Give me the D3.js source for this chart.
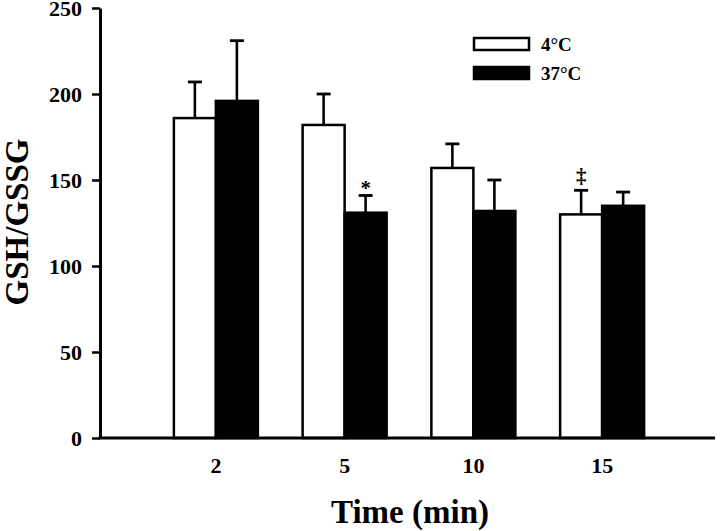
<!DOCTYPE html>
<html>
<head>
<meta charset="utf-8">
<script src="https://cdn.jsdelivr.net/npm/d3@7"></script>
<style>
  html, body { margin: 0; padding: 0; background: #fff; }
  svg { display: block; }
  text { font-family: "Liberation Serif", "Times New Roman", serif; font-weight: bold; fill: #000; }
</style>
</head>
<body>
<svg id="chart" width="720" height="531"></svg>
<script>
// ---- data ----
const categories = ["2", "5", "10", "15"];
const seriesNames = ["4°C", "37°C"];
const values4C  = [186, 182, 157, 130];
const errors4C  = [21, 18, 14, 14];
const values37C = [196, 131, 132, 135];
const errors37C = [35, 10, 18, 8];
const marks4C   = ["", "", "", "‡"];
const marks37C  = ["", "*", "", ""];
const yTicks = [0, 50, 100, 150, 200, 250];
const yTitle = "GSH/GSSG";
const xTitle = "Time (min)";

// ---- layout ----
const svg = d3.select("#chart");
const axisLeftX = 100, axisRightX = 715;
const yTop = 8, yBottom = 438;

const y = d3.scaleLinear().domain([0, 250]).range([yBottom, yTop]);
const x = d3.scaleBand().domain(categories).range([151.5, 666.5]).paddingInner(0).paddingOuter(0);
const inner = d3.scaleBand().domain(seriesNames).range([0, 84]);
const bw = inner.bandwidth();
const groupStart = c => x(c) + x.bandwidth() / 2 - 42;

const series = [
  { name: seriesNames[0], vals: values4C, errs: errors4C, marks: marks4C, fill: "#fff" },
  { name: seriesNames[1], vals: values37C, errs: errors37C, marks: marks37C, fill: "#000" }
];

const plot = svg.append("g");

series.forEach(s => {
  const g = plot.append("g");
  const cx = c => groupStart(c) + inner(s.name) + bw / 2;
  // error bars (upper only)
  g.selectAll("line.err").data(categories).enter().append("line")
    .attr("x1", cx).attr("x2", cx)
    .attr("y1", (c, i) => y(s.vals[i]))
    .attr("y2", (c, i) => y(s.vals[i] + s.errs[i]))
    .attr("stroke", "#000").attr("stroke-width", 2.6);
  g.selectAll("line.cap").data(categories).enter().append("line")
    .attr("x1", c => cx(c) - 7)
    .attr("x2", c => cx(c) + 7)
    .attr("y1", (c, i) => y(s.vals[i] + s.errs[i]))
    .attr("y2", (c, i) => y(s.vals[i] + s.errs[i]))
    .attr("stroke", "#000").attr("stroke-width", 2.8);
  // bars
  g.selectAll("rect").data(categories).enter().append("rect")
    .attr("x", c => groupStart(c) + inner(s.name))
    .attr("width", bw)
    .attr("y", (c, i) => y(s.vals[i]))
    .attr("height", (c, i) => y(0) - y(s.vals[i]))
    .attr("fill", s.fill)
    .attr("stroke", "#000").attr("stroke-width", 2.5);
  // significance marks
  g.selectAll("text.mark").data(categories).enter().append("text")
    .attr("x", cx)
    .attr("y", (c, i) => y(s.vals[i] + s.errs[i]) - (s.marks[i] === "*" ? 0 : 7))
    .attr("text-anchor", "middle")
    .style("font-size", "21px")
    .text((c, i) => s.marks[i]);
});

// ---- y axis ----
const yAxis = svg.append("g").attr("transform", `translate(${axisLeftX},0)`)
  .call(d3.axisLeft(y).tickValues(yTicks).tickSize(8).tickPadding(10).tickSizeOuter(0));
yAxis.select(".domain").attr("stroke-width", 3);
yAxis.selectAll(".tick line").attr("stroke-width", 2.5);
yAxis.selectAll(".tick text").style("font-size", "22px").attr("dy", "0.34em");

// ---- x axis ----
const xAxis = svg.append("g").attr("transform", `translate(0,${yBottom})`)
  .call(d3.axisBottom(x).tickSize(0).tickPadding(19));
xAxis.select(".domain").remove();
xAxis.append("line").attr("x1", axisLeftX - 1.5).attr("x2", axisRightX)
  .attr("y1", 0).attr("y2", 0).attr("stroke", "#000").attr("stroke-width", 3);
xAxis.selectAll(".tick text").style("font-size", "22px");

// ---- titles ----
svg.append("text")
  .attr("transform", `translate(28,222) rotate(-90)`)
  .attr("text-anchor", "middle")
  .style("font-size", "33px")
  .text(yTitle);
svg.append("text")
  .attr("x", 410).attr("y", 523)
  .attr("text-anchor", "middle")
  .style("font-size", "33px")
  .text(xTitle);

// ---- legend ----
const legend = svg.append("g");
series.forEach((s, i) => {
  legend.append("rect")
    .attr("x", 474).attr("y", 38 + i * 29)
    .attr("width", 55).attr("height", 12)
    .attr("fill", s.fill).attr("stroke", "#000").attr("stroke-width", 2.5);
  legend.append("text")
    .attr("x", 541).attr("y", 51 + i * 29)
    .style("font-size", "19px")
    .text(s.name);
});
</script>
</body>
</html>
